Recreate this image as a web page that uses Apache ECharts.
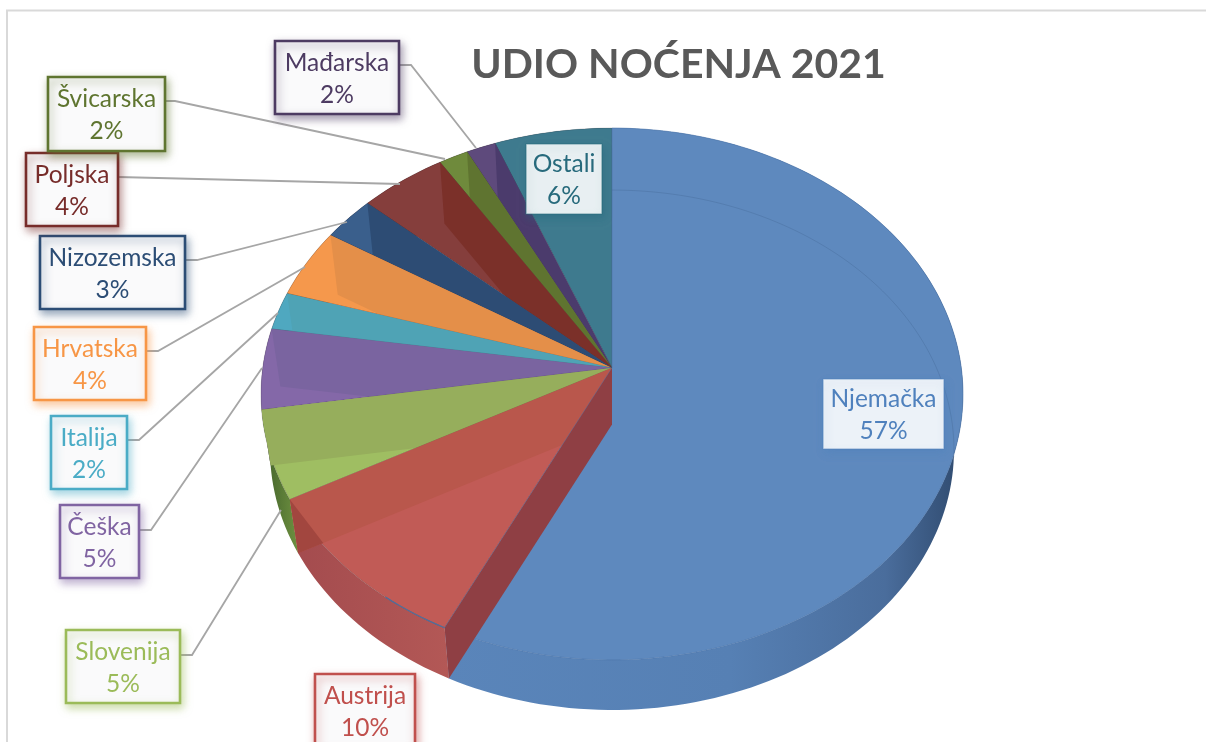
<!DOCTYPE html>
<html><head><meta charset="utf-8">
<style>html,body{margin:0;padding:0;background:#fff}#c{width:1206px;height:742px}</style>
<script src="https://cdn.jsdelivr.net/npm/echarts@6/dist/echarts.min.js"></script>
</head><body><div id="c"></div>
<script>
const categories=['Njemačka','Austrija','Slovenija','Češka','Italija','Hrvatska','Nizozemska','Poljska','Švicarska','Mađarska','Ostali'];
const shares=[57.2,9.9,5.4,4.9,2.3,4.2,2.7,4.45,1.5,1.5,5.95];
const lineColors=['#4F81BD','#C0504D','#9BBB59','#8064A2','#4BACC6','#F79646','#2C4D75','#772C2A','#5F7530','#4D3B62','#276A7C'];
const topColors=['#5E89BE','#C15B56','#9FBE62','#8468A8','#4FA8C0','#F5984C','#3A5F8C','#853E3C','#6F8A3C','#5E4A7C','#3E7A8E'];
const wallColors=['#8F3F44','#B9574C','#96AE5C','#7A64A0','#4FA3B5','#E48F49','#2D4C74','#7B3029','#5F7430','#4B3B6C','#3E7A8E'];
const sideColors=[['#5A85BA','#36557E'],['#A34B4E','#B35856'],['#3F5F2A','#6F9140'],['#6A5290','#6A5290'],['#3F8FA3','#3F8FA3'],['#D07F3C','#D07F3C'],['#28466B','#28466B'],['#662622','#662622'],['#4F6328','#4F6328'],['#3F3254','#3F3254'],['#276A7C','#276A7C']];
// label box [x,y,w,h] and leader polyline, in page pixels
const labelBoxes=[[823,379,121,70],[315,674,100,74],[66,630,114,73],[60,505,79,73],[51,416,76,73],[34,327,112,73],[40,236,145,73],[26,153,92,73],[48,77,117,74],[275,41,124,73],[526,144,76,70]];
const leaders=[null,null,[[180,655],[192,655],[281,510]],[[139,530],[151,530],[262,368]],[[127,440],[139,440],[278,313]],[[146,351],[158,351],[305,267]],[[185,260],[197,260],[347,222]],[[118,177],[400,184]],[[165,101],[175,101],[445,159]],[[399,65],[411,65],[476,148]],null];
const FONT='Lato, "Open Sans", sans-serif';

const total=shares.reduce((a,b)=>a+b,0);
const cum=[0];shares.forEach((v,i)=>cum.push(cum[i]+v));
// perspective projection of the pie's circular top face
const CX=612,AY=368,A=349.3,B=263.4,K=-0.0977;
function rim(f){const p=2*Math.PI*f,u=Math.sin(p),v=-Math.cos(p),d=1+K*v;return [CX+A*u/d,AY+B*v/d];}
// bottom face is an affine copy of the top face
function ext(P){return [CX+(P[0]-CX)*342/351,450+(P[1]-394)*260/266];}
function arc(f0,f1){const n=Math.max(2,Math.ceil((f1-f0)*240)),o=[];for(let i=0;i<=n;i++)o.push(rim(f0+(f1-f0)*i/n));return o;}
function insideTop(p){const x=(p[0]-CX)/351,y=(p[1]-394)/266;return x*x+y*y<1;}
const apex=[CX,AY];
const sliceData=categories.map((c,i)=>({name:c,value:[i,shares[i]]}));

function sideItem(params){
  const i=params.dataIndex,a=arc(cum[i]/total,cum[i+1]/total),b=a.map(ext).reverse();
  const xs=a.concat(b).map(p=>p[0]);
  const x0=Math.min(...xs),x1=Math.max(...xs);
  const stops=i===0?[{offset:0,color:'#5A85BA'},{offset:0.55,color:'#5680B4'},{offset:0.85,color:'#4A6D9C'},{offset:1,color:'#2F4A6E'}]
    :[{offset:0,color:sideColors[i][0]},{offset:1,color:sideColors[i][1]}];
  return {type:'polygon',z2:i,shape:{points:a.concat(b)},style:{fill:new echarts.graphic.LinearGradient(x0,0,x1,0,stops,true)}};
}
function topItem(params){
  const i=params.dataIndex,a=arc(cum[i]/total,cum[i+1]/total),e=a[a.length-1];
  const z=(categories.length-i)*2;
  const children=[{type:'polygon',z2:z,shape:{points:[apex].concat(a)},style:{fill:topColors[i],stroke:i===0?'#4C74A8':'rgba(50,40,50,0.35)',lineWidth:0.6}},
   {type:'polygon',z2:i===0?100:z+1,shape:{points:[apex,e,ext(e),ext(apex)]},style:{fill:wallColors[i]}}];
  if(i===1){
    // part of the Austrija wall that hangs outside the top rim is in shadow
    const p=ext(e),q=ext(apex);let hit=p;
    for(let t=0;t<=1;t+=0.005){const m=[p[0]+(q[0]-p[0])*t,p[1]+(q[1]-p[1])*t];if(insideTop(m)){hit=m;break;}}
    children.push({type:'polygon',z2:z+1,shape:{points:[e,p,hit]},style:{fill:'#A2463F'}});
  }
  if(i===0){
    // faint far rim of the bottom face, seen through the top
    children.push({type:'polyline',z2:z+1,shape:{points:arc(0,0.27).map(ext)},style:{fill:'none',stroke:'rgba(50,80,125,0.22)',lineWidth:1}});
    children.push({type:'polyline',z2:101,shape:{points:arc(cum[1]/total,cum[1]/total+0.03)},style:{fill:'none',stroke:'#4C6E9C',lineWidth:1.2}});
  }
  return {type:'group',children};
}
function labelItem(params){
  const i=params.dataIndex,b=labelBoxes[i],c=lineColors[i];
  const onPie=i===0||i===10;
  const children=[];
  if(leaders[i])children.push({type:'polyline',shape:{points:leaders[i]},style:{fill:'none',stroke:'#A6A6A6',lineWidth:1.8}});
  children.push({type:'rect',shape:{x:b[0],y:b[1],width:b[2],height:b[3]},style:{fill:onPie?'rgba(255,255,255,0.89)':'#FAFAFB',stroke:onPie?c+'99':c,lineWidth:onPie?1.2:2.6,shadowColor:c+'80',shadowBlur:8,shadowOffsetX:2,shadowOffsetY:4}});
  const cx=b[0]+b[2]/2;
  const ty=b[1]+(onPie?20:22);
  const pct=Math.round(shares[i])+'%';
  children.push({type:'text',style:{text:categories[i],x:cx,y:ty,align:'center',verticalAlign:'middle',fill:c,fontFamily:FONT,fontSize:24.5}});
  children.push({type:'text',style:{text:pct,x:cx,y:ty+32,align:'center',verticalAlign:'middle',fill:c,fontFamily:FONT,fontSize:24.5}});
  return {type:'group',children};
}
const chart=echarts.init(document.getElementById('c'),null,{renderer:'canvas'});
chart.setOption({
  animation:false,backgroundColor:'#fff',tooltip:{show:false},
  title:{text:'UDIO NOĆENJA 2021',left:673.5,top:39,textAlign:'center',textStyle:{fontFamily:FONT,fontWeight:'bold',fontSize:41,color:'#595959'}},
  graphic:[{type:'rect',z:0,shape:{x:7,y:10.5,width:1300,height:900},style:{fill:'none',stroke:'#D9D9D9',lineWidth:2}}],
  series:[
    {type:'custom',coordinateSystem:'none',z:2,silent:true,clip:false,data:sliceData,renderItem:sideItem},
    {type:'custom',coordinateSystem:'none',z:3,silent:true,clip:false,data:sliceData,renderItem:topItem},
    {type:'custom',coordinateSystem:'none',z:4,silent:true,clip:false,data:sliceData,renderItem:labelItem}
  ]
});
</script></body></html>
